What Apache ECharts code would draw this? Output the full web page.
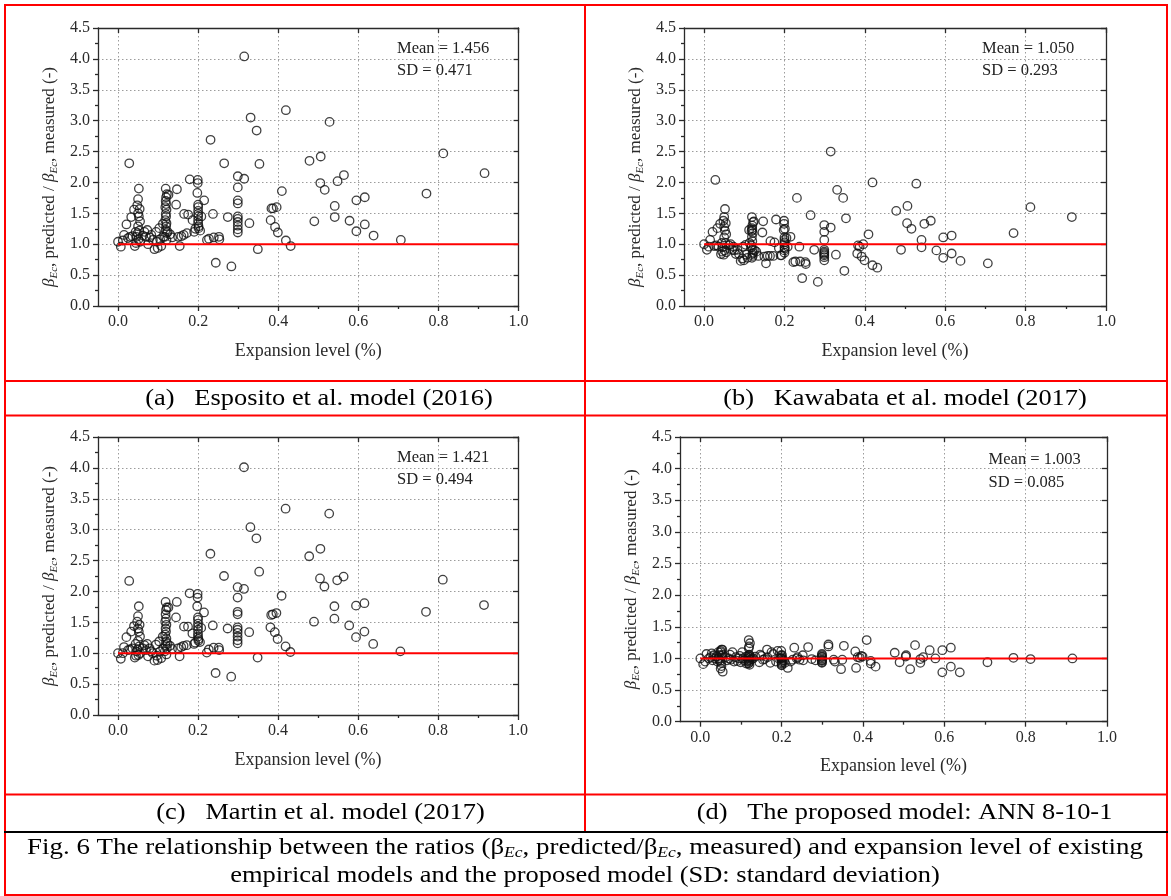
<!DOCTYPE html>
<html><head><meta charset="utf-8">
<script src="https://cdn.jsdelivr.net/npm/echarts@6/dist/echarts.min.js"></script>
<style>html,body{margin:0;padding:0;background:#fff}#c{width:1171px;height:896px}</style>
</head><body><div id="c"></div>
<script>
// ---------- data ----------
const xs = [
 0.000,0.007,0.012,0.015,0.021,0.025,0.028,0.030,0.033,0.036,0.040,0.042,0.044,0.045,
 0.052,0.050,0.048,0.054,0.050,0.052,0.055,0.050,0.053,0.046,0.051,0.055,0.049,
 0.062,0.066,0.070,0.073,0.075,0.079,0.083,0.087,0.091,0.095,0.097,0.099,0.103,0.105,0.108,0.112,0.113,
 0.119,0.122,0.120,0.119,0.120,0.118,0.121,0.119,0.120,0.118,0.121,0.120,0.119,0.122,0.117,0.121,0.124,0.126,
 0.130,0.135,0.145,0.147,0.150,0.154,0.158,0.164,0.165,0.172,0.175,0.179,0.186,0.190,0.193,
 0.199,0.199,0.198,0.200,0.200,0.200,0.200,0.200,0.200,0.200,0.201,0.201,0.208,0.215,0.205,
 0.222,0.227,0.231,0.237,0.239,0.244,0.252,0.253,0.265,0.274,0.283,
 0.299,0.299,0.299,0.299,0.299,0.299,0.299,0.299,0.299,0.299,
 0.315,0.315,0.328,0.331,0.346,0.349,0.353,0.381,0.383,0.387,0.392,0.396,0.399,0.409,0.419,0.419,0.431,
 0.478,0.490,0.505,0.506,0.516,0.528,0.541,0.541,0.548,0.564,0.578,0.595,0.595,0.616,0.616,0.638,
 0.706,0.770,0.812,0.915
];
const yEsposito = [
 1.04,0.96,1.06,1.15,1.32,1.10,2.31,1.12,1.44,1.13,1.56,0.97,1.20,1.02,
 1.90,1.73,1.63,1.57,1.50,1.45,1.37,1.29,1.22,1.12,1.08,1.04,1.18,
 1.14,1.20,1.12,1.23,1.00,1.11,1.15,1.07,0.92,1.20,1.04,0.94,1.26,1.08,0.97,1.33,1.12,
 1.90,1.81,1.76,1.70,1.65,1.60,1.56,1.49,1.45,1.39,1.34,1.29,1.23,1.18,1.12,1.07,1.20,1.80,
 1.16,1.11,1.64,1.89,1.12,0.97,1.13,1.15,1.49,1.18,1.48,2.05,1.39,1.20,1.25,
 2.04,1.99,1.83,1.64,1.60,1.54,1.49,1.45,1.39,1.34,1.29,1.26,1.45,1.71,1.22,
 1.07,1.09,2.69,1.49,1.11,0.70,1.12,1.08,2.31,1.44,0.64,
 2.10,1.92,1.71,1.66,1.45,1.41,1.36,1.30,1.24,1.19,
 4.04,2.06,1.34,3.05,2.84,0.92,2.30,1.39,1.58,1.58,1.28,1.60,1.19,1.86,3.17,1.06,0.97,
 2.35,1.37,1.99,2.42,1.88,2.98,1.62,1.44,2.02,2.12,1.38,1.71,1.21,1.76,1.32,1.14,
 1.07,1.82,2.47,2.15
];
const yKawabata = [
 1.00,0.91,0.96,1.07,1.20,0.97,2.04,0.98,1.26,0.96,1.33,0.84,1.02,0.88,
 1.57,1.44,1.38,1.34,1.28,1.22,1.16,1.11,1.02,0.95,0.90,0.87,0.83,
 0.98,1.00,0.91,0.96,0.90,0.84,0.91,0.84,0.73,0.77,0.96,0.74,0.99,0.83,0.78,1.23,1.02,
 1.44,1.36,1.30,1.26,1.23,1.21,1.18,1.12,1.05,0.98,0.91,0.84,0.78,0.86,0.95,0.81,1.37,0.90,
 0.88,0.81,1.19,1.37,0.80,0.69,0.81,0.81,1.05,0.81,1.03,1.40,0.94,0.82,0.82,
 1.38,1.33,1.23,1.11,1.07,1.03,1.00,0.95,0.90,0.86,1.25,0.93,0.96,1.12,1.10,
 0.71,0.72,1.75,0.96,0.72,0.45,0.71,0.68,1.47,0.91,0.39,
 1.31,1.20,1.07,0.91,0.88,0.84,0.79,0.74,0.86,0.82,
 2.50,1.27,0.83,1.88,1.75,0.57,1.42,0.85,0.98,0.96,0.80,1.00,0.74,1.16,2.00,0.66,0.62,
 1.54,0.91,1.34,1.62,1.25,1.98,1.07,0.95,1.33,1.38,0.90,1.11,0.78,1.14,0.85,0.73,
 0.69,1.18,1.60,1.44
];
const yMartin = [
 1.00,0.91,1.00,1.10,1.26,1.05,2.17,1.06,1.35,1.08,1.44,0.93,1.15,0.96,
 1.76,1.60,1.51,1.46,1.40,1.35,1.27,1.20,1.11,1.03,0.97,1.00,1.06,
 1.08,1.13,1.05,1.15,0.95,1.08,1.03,1.00,0.88,1.14,0.96,0.89,1.19,1.03,0.92,1.27,1.08,
 1.83,1.74,1.70,1.63,1.56,1.51,1.46,1.40,1.35,1.30,1.24,1.19,1.13,1.08,1.03,0.98,1.15,1.74,
 1.12,1.07,1.58,1.83,1.08,0.95,1.10,1.12,1.43,1.13,1.43,1.97,1.32,1.15,1.17,
 1.96,1.90,1.76,1.58,1.54,1.48,1.43,1.38,1.32,1.27,1.23,1.20,1.41,1.66,1.18,
 1.01,1.06,2.61,1.45,1.09,0.68,1.09,1.05,2.25,1.40,0.62,
 2.07,1.90,1.67,1.63,1.42,1.38,1.33,1.27,1.21,1.16,
 4.01,2.04,1.34,3.04,2.86,0.93,2.32,1.42,1.62,1.63,1.34,1.65,1.23,1.93,3.34,1.11,1.02,
 2.57,1.51,2.21,2.69,2.08,3.26,1.76,1.56,2.18,2.24,1.45,1.77,1.26,1.81,1.35,1.15,
 1.03,1.67,2.19,1.78
];
const yANN = [
 1.00,0.91,0.95,1.07,1.00,1.02,1.08,0.97,1.05,1.00,1.03,0.95,1.10,1.00,
 1.14,1.12,1.05,1.14,1.10,0.88,0.79,0.84,1.04,0.98,0.93,1.06,0.96,
 1.02,0.97,1.00,1.06,0.98,1.10,0.95,1.02,0.96,1.00,1.04,0.94,1.10,1.00,0.97,1.03,0.92,
 1.29,1.24,1.19,1.16,1.06,1.04,1.02,0.97,0.95,0.92,0.90,0.93,1.00,0.98,0.96,1.05,1.02,0.99,
 1.00,1.03,0.94,1.06,1.04,0.98,0.99,1.14,1.02,0.93,1.10,1.07,0.95,1.12,1.00,
 1.12,1.05,1.00,0.96,0.92,0.89,0.90,0.94,1.00,1.02,0.98,1.05,0.93,0.85,0.97,
 0.95,0.98,1.17,1.00,1.02,0.98,1.05,0.97,1.18,0.99,0.97,
 1.07,1.05,1.02,1.00,0.98,0.96,0.94,0.93,0.97,1.03,
 1.22,1.19,0.98,0.95,0.83,0.98,1.20,1.11,0.85,1.02,1.01,1.04,1.03,1.29,0.96,0.92,0.87,
 1.09,0.94,1.03,1.05,0.83,1.21,0.93,0.99,1.02,1.13,1.00,1.13,0.78,1.17,0.87,0.78,
 0.94,1.01,0.99,1.00
];
const meanValues = ['1.456','1.050','1.421','1.003'];
const sdValues = ['0.471','0.293','0.494','0.085'];
const panelCaptions = [
 '(a)\u2002\u2005Esposito et al. model (2016)',
 '(b)\u2002\u2005Kawabata et al. model (2017)',
 '(c)\u2002\u2005Martin et al. model (2017)',
 '(d)\u2002\u2005The proposed model: ANN 8-10-1'
];
const xTickValues = [0, 0.2, 0.4, 0.6, 0.8, 1.0];
const xMinorTickValues = [0.1, 0.3, 0.5, 0.7, 0.9];
const refLine = [[0, 1], [1, 1]];
const xTitle = 'Expansion level (%)';
const yTitle = '{i|\u03b2}{s|Ec}, predicted / {i|\u03b2}{s|Ec}, measured (-)';
const figCaption1 = '{n|Fig. 6 The relationship between the ratios (\u03b2}{s|Ec}{n|, predicted/\u03b2}{s|Ec}{n|, measured) and expansion level of existing}';
const figCaption2 = 'empirical models and the proposed model (SD: standard deviation)';

// ---------- layout ----------
const FONT = "'Liberation Serif','Times New Roman',serif";
const AX = '#2a2a2a';
const layout = [
 {grid:{left:98, top:28, width:420.6, height:278}, mean:[397,48.7], sd:[397,71], cap:[319,398.5], yPad:[0,20,0,0]},
 {grid:{left:684, top:28, width:422, height:278}, mean:[982,48.7], sd:[982,71], cap:[905,398.5], yPad:[0,20,0,0]},
 {grid:{left:98, top:437, width:420, height:278}, mean:[397,457.3], sd:[397,479.3], cap:[320.5,812.5], yPad:[0,0,0,0]},
 {grid:{left:680, top:437, width:427, height:284.7}, mean:[988.6,459.3], sd:[988.6,482.7], cap:[904.5,812.5], yPad:[0,0,0,0]}
];
const seriesY = [yEsposito, yKawabata, yMartin, yANN];

const option = {animation:false, backgroundColor:'#fff', grid:[], xAxis:[], yAxis:[], series:[], graphic:[]};
const lineStyleAx = {color:AX, width:1.3};
const dotted = {color:'#9c9c9c', width:1, type:[1.5,2.5]};

layout.forEach((p, i) => {
  option.grid.push(Object.assign({containLabel:false, outerBoundsMode:'none'}, p.grid));
  const xb = option.xAxis.length, yb = option.yAxis.length;
  option.xAxis.push({gridIndex:i, type:'value', min:-0.05, max:1, position:'bottom',
    name:xTitle, nameLocation:'middle', nameGap:36,
    nameTextStyle:{fontFamily:FONT, fontSize:18, color:AX},
    axisLine:{show:true, onZero:false, lineStyle:lineStyleAx},
    axisTick:{show:true, customValues:xTickValues, length:5, lineStyle:lineStyleAx},
    axisLabel:{show:true, customValues:xTickValues, formatter:v=>v.toFixed(1), fontFamily:FONT, fontSize:16, color:AX, margin:8},
    splitLine:{show:true, lineStyle:dotted}});
  option.xAxis.push({gridIndex:i, type:'value', min:-0.05, max:1, position:'bottom',
    axisLine:{show:false, onZero:false},
    axisTick:{show:true, customValues:xMinorTickValues, length:3, lineStyle:lineStyleAx},
    axisLabel:{show:false}, splitLine:{show:false}});
  option.xAxis.push({gridIndex:i, type:'value', min:-0.05, max:1, position:'top',
    axisLine:{show:true, onZero:false, lineStyle:lineStyleAx},
    axisTick:{show:true, inside:true, customValues:xTickValues, length:5, lineStyle:lineStyleAx},
    axisLabel:{show:false}, splitLine:{show:false}});
  option.yAxis.push({gridIndex:i, type:'value', min:0, max:4.5, interval:0.5, position:'left',
    name:yTitle, nameLocation:'middle', nameGap:38, nameRotate:90,
    nameTextStyle:{fontFamily:FONT, fontSize:17, color:AX, padding:p.yPad,
      rich:{i:{fontFamily:FONT, fontSize:17, fontStyle:'italic', color:AX},
            s:{fontFamily:FONT, fontSize:11, fontStyle:'italic', color:AX, padding:[9,0,0,0]}}},
    axisLine:{show:true, onZero:false, lineStyle:lineStyleAx},
    axisTick:{show:true, length:5, lineStyle:lineStyleAx},
    minorTick:{show:true, splitNumber:2, length:3, lineStyle:lineStyleAx},
    axisLabel:{show:true, formatter:v=>v.toFixed(1), fontFamily:FONT, fontSize:16, color:AX, margin:8},
    splitLine:{show:true, lineStyle:dotted}});
  option.yAxis.push({gridIndex:i, type:'value', min:0, max:4.5, interval:0.5, position:'right',
    axisLine:{show:true, onZero:false, lineStyle:lineStyleAx},
    axisTick:{show:true, inside:true, length:5, lineStyle:lineStyleAx},
    axisLabel:{show:false}, splitLine:{show:false}});
  option.series.push({type:'scatter', xAxisIndex:xb, yAxisIndex:yb,
    data:xs.map((x, k) => [x, seriesY[i][k]]),
    symbol:'circle', symbolSize:8.5, z:3, silent:true,
    itemStyle:{color:'rgba(255,255,255,0)', borderColor:'#111', borderWidth:1.3}});
  option.series.push({type:'line', xAxisIndex:xb, yAxisIndex:yb, data:refLine,
    symbol:'none', z:4, silent:true, lineStyle:{color:'#ff0000', width:2}});
  const txt = {fontFamily:FONT, fontSize:16.5, fill:'#222', align:'left', verticalAlign:'middle'};
  option.graphic.push({type:'text', x:p.mean[0], y:p.mean[1], z:10, scaleX:1.0, style:Object.assign({text:'Mean = ' + meanValues[i]}, txt)});
  option.graphic.push({type:'text', x:p.sd[0], y:p.sd[1], z:10, style:Object.assign({text:'SD = ' + sdValues[i]}, txt)});
  option.graphic.push({type:'text', x:p.cap[0], y:p.cap[1], z:10, scaleX:1.1,
    style:{text:panelCaptions[i], fontFamily:FONT, fontSize:24, fill:'#000', align:'center', verticalAlign:'middle'}});
});

// table borders
const RED = '#ff0000';
const borders = [
 [4,5,1168,5,RED],[5,4,5,896,RED],[1167,4,1167,896,RED],[585,5,585,832,RED],
 [4,381,1168,381,RED],[4,415.5,1168,415.5,RED],[4,794.5,1168,794.5,RED],
 [4,832,1168,832,'#000'],[4,895,1168,895,RED]
];
borders.forEach(b => option.graphic.push({type:'line', z:20, silent:true,
  shape:{x1:b[0], y1:b[1], x2:b[2], y2:b[3]}, style:{stroke:b[4], lineWidth:2}}));

option.graphic.push({type:'text', x:585, y:848, z:10, scaleX:1.17, style:{text:figCaption1, fontFamily:FONT, fontSize:23, fill:'#000', align:'center', verticalAlign:'middle',
  rich:{n:{fontFamily:FONT, fontSize:23, fill:'#000'}, s:{fontFamily:FONT, fontSize:15, fontStyle:'italic', fill:'#000', padding:[10,0,0,0]}}}});
option.graphic.push({type:'text', x:585, y:876, z:10, scaleX:1.15, style:{text:figCaption2, fontFamily:FONT, fontSize:23, fill:'#000', align:'center', verticalAlign:'middle'}});

const chart = echarts.init(document.getElementById('c'), null, {renderer:'canvas'});
chart.setOption(option);
</script></body></html>
